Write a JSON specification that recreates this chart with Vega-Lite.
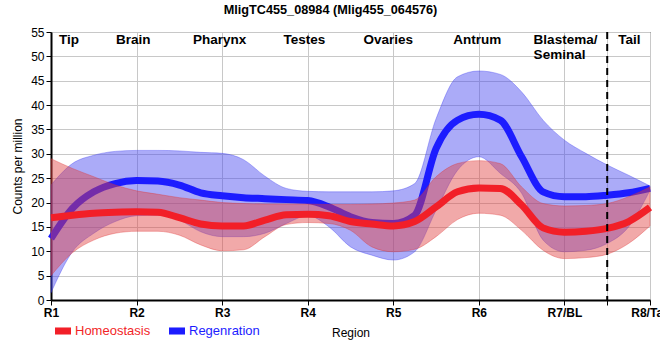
{
  "$schema": "https://vega.github.io/schema/vega-lite/v6.json",
  "width": 599,
  "height": 268,
  "autosize": "none",
  "padding": {"left": 51, "top": 32, "right": 10, "bottom": 60},
  "background": "white",
  "config": {
    "font": "Liberation Sans",
    "view": {"stroke": "black", "strokeWidth": 1},
    "axisY": {
      "tickCount": 12,
      "labelOverlap": false,
      "labelFontSize": 12,
      "labelFontWeight": "normal",
      "labelColor": "black",
      "labelPadding": 2,
      "tickColor": "black",
      "tickSize": 5,
      "domainColor": "black",
      "domainWidth": 2,
      "grid": true,
      "gridColor": "#c8c8c8",
      "titleFontSize": 12,
      "titleFontWeight": "normal",
      "titleColor": "black",
      "titlePadding": 6
    },
    "axisX": {
      "labelOverlap": false,
      "labelFlush": false,
      "labelFontSize": 12,
      "labelFontWeight": "bold",
      "labelColor": "black",
      "labelPadding": 2,
      "tickColor": "black",
      "tickSize": 5,
      "domainColor": "black",
      "domainWidth": 2,
      "grid": true,
      "gridColor": "#c8c8c8",
      "titleFontSize": 12,
      "titleFontWeight": "normal",
      "titleColor": "black",
      "titlePadding": 9
    }
  },
  "title": {
    "text": "MligTC455_08984 (Mlig455_064576)",
    "fontSize": 12.7,
    "fontWeight": "bold",
    "color": "black",
    "anchor": "middle",
    "frame": "group",
    "dx": -20,
    "baseline": "alphabetic",
    "offset": -1
  },
  "datasets": {
    "expr": [
      {"x": 1, "group": "Homeostasis", "mean": 16.9, "lo": 5.0, "hi": 29.0},
      {"x": 1.25, "group": "Homeostasis", "mean": 17.4, "lo": 9.7, "hi": 27.0},
      {"x": 1.5, "group": "Homeostasis", "mean": 17.8, "lo": 12.3, "hi": 25.3},
      {"x": 1.75, "group": "Homeostasis", "mean": 18.0, "lo": 13.7, "hi": 23.6},
      {"x": 2, "group": "Homeostasis", "mean": 18.1, "lo": 14.1, "hi": 22.4},
      {"x": 2.25, "group": "Homeostasis", "mean": 18.0, "lo": 14.1, "hi": 21.7},
      {"x": 2.5, "group": "Homeostasis", "mean": 16.9, "lo": 13.3, "hi": 21.0},
      {"x": 2.75, "group": "Homeostasis", "mean": 15.6, "lo": 11.3, "hi": 20.5},
      {"x": 3, "group": "Homeostasis", "mean": 15.2, "lo": 10.1, "hi": 20.0},
      {"x": 3.25, "group": "Homeostasis", "mean": 15.2, "lo": 10.3, "hi": 19.8},
      {"x": 3.5, "group": "Homeostasis", "mean": 16.4, "lo": 13.0, "hi": 19.7},
      {"x": 3.75, "group": "Homeostasis", "mean": 17.5, "lo": 15.5, "hi": 19.7},
      {"x": 4, "group": "Homeostasis", "mean": 17.6, "lo": 15.9, "hi": 19.7},
      {"x": 4.25, "group": "Homeostasis", "mean": 17.3, "lo": 15.7, "hi": 19.6},
      {"x": 4.5, "group": "Homeostasis", "mean": 16.1, "lo": 14.3, "hi": 19.6},
      {"x": 4.75, "group": "Homeostasis", "mean": 15.6, "lo": 10.9, "hi": 19.7},
      {"x": 5, "group": "Homeostasis", "mean": 15.2, "lo": 9.9, "hi": 19.9},
      {"x": 5.25, "group": "Homeostasis", "mean": 16.1, "lo": 10.4, "hi": 20.5},
      {"x": 5.5, "group": "Homeostasis", "mean": 19.1, "lo": 13.0, "hi": 25.3},
      {"x": 5.75, "group": "Homeostasis", "mean": 22.2, "lo": 16.5, "hi": 28.0},
      {"x": 6, "group": "Homeostasis", "mean": 23.0, "lo": 17.8, "hi": 28.6},
      {"x": 6.25, "group": "Homeostasis", "mean": 22.9, "lo": 17.4, "hi": 28.0},
      {"x": 6.5, "group": "Homeostasis", "mean": 19.5, "lo": 14.3, "hi": 23.2},
      {"x": 6.75, "group": "Homeostasis", "mean": 14.8, "lo": 10.2, "hi": 19.8},
      {"x": 7, "group": "Homeostasis", "mean": 13.9, "lo": 8.5, "hi": 19.3},
      {"x": 7.25, "group": "Homeostasis", "mean": 14.1, "lo": 8.7, "hi": 19.4},
      {"x": 7.5, "group": "Homeostasis", "mean": 14.7, "lo": 9.4, "hi": 19.8},
      {"x": 7.75, "group": "Homeostasis", "mean": 16.1, "lo": 11.6, "hi": 21.2},
      {"x": 8, "group": "Homeostasis", "mean": 19.0, "lo": 15.2, "hi": 23.2},
      {"x": 1, "group": "Regenration", "mean": 12.6, "lo": 1.5, "hi": 23.6},
      {"x": 1.25, "group": "Regenration", "mean": 18.8, "lo": 9.9, "hi": 28.0},
      {"x": 1.5, "group": "Regenration", "mean": 22.2, "lo": 13.7, "hi": 29.7},
      {"x": 1.75, "group": "Regenration", "mean": 23.9, "lo": 16.1, "hi": 30.5},
      {"x": 2, "group": "Regenration", "mean": 24.5, "lo": 17.3, "hi": 30.7},
      {"x": 2.25, "group": "Regenration", "mean": 24.4, "lo": 17.4, "hi": 30.7},
      {"x": 2.5, "group": "Regenration", "mean": 23.6, "lo": 16.4, "hi": 30.6},
      {"x": 2.75, "group": "Regenration", "mean": 22.0, "lo": 14.0, "hi": 30.3},
      {"x": 3, "group": "Regenration", "mean": 21.4, "lo": 13.0, "hi": 30.1},
      {"x": 3.25, "group": "Regenration", "mean": 21.0, "lo": 13.0, "hi": 28.8},
      {"x": 3.5, "group": "Regenration", "mean": 20.8, "lo": 13.7, "hi": 25.4},
      {"x": 3.75, "group": "Regenration", "mean": 20.6, "lo": 15.7, "hi": 22.9},
      {"x": 4, "group": "Regenration", "mean": 20.4, "lo": 17.3, "hi": 22.3},
      {"x": 4.25, "group": "Regenration", "mean": 19.1, "lo": 15.0, "hi": 22.2},
      {"x": 4.5, "group": "Regenration", "mean": 17.1, "lo": 10.9, "hi": 22.2},
      {"x": 4.75, "group": "Regenration", "mean": 15.9, "lo": 9.2, "hi": 22.2},
      {"x": 5, "group": "Regenration", "mean": 15.7, "lo": 8.2, "hi": 22.4},
      {"x": 5.25, "group": "Regenration", "mean": 17.4, "lo": 9.9, "hi": 23.9},
      {"x": 5.5, "group": "Regenration", "mean": 31.1, "lo": 18.4, "hi": 37.2},
      {"x": 5.75, "group": "Regenration", "mean": 36.9, "lo": 26.6, "hi": 45.8},
      {"x": 6, "group": "Regenration", "mean": 38.1, "lo": 29.4, "hi": 47.0},
      {"x": 6.25, "group": "Regenration", "mean": 36.9, "lo": 26.0, "hi": 46.3},
      {"x": 6.5, "group": "Regenration", "mean": 29.4, "lo": 21.9, "hi": 42.7},
      {"x": 6.75, "group": "Regenration", "mean": 22.2, "lo": 12.3, "hi": 36.9},
      {"x": 7, "group": "Regenration", "mean": 21.2, "lo": 9.9, "hi": 32.8},
      {"x": 7.25, "group": "Regenration", "mean": 21.2, "lo": 10.2, "hi": 30.1},
      {"x": 7.5, "group": "Regenration", "mean": 21.5, "lo": 11.6, "hi": 27.7},
      {"x": 7.75, "group": "Regenration", "mean": 22.0, "lo": 15.0, "hi": 25.6},
      {"x": 8, "group": "Regenration", "mean": 22.9, "lo": 22.5, "hi": 23.4}
    ],
    "regions": [
      {"label": "Tip", "x": 1.21},
      {"label": "Brain", "x": 1.96},
      {"label": "Pharynx", "x": 2.97},
      {"label": "Testes", "x": 3.96},
      {"label": "Ovaries", "x": 4.94},
      {"label": "Antrum", "x": 5.98},
      {"label": "Tail", "x": 7.76}
    ],
    "regions2": [
      {"label": "Blastema/\nSeminal", "x": 6.64}
    ],
    "divider": [{"x": 7.5}]
  },
  "layer": [
    {
      "data": {"name": "expr"},
      "transform": [{"filter": "datum.group == 'Regenration'"}],
      "mark": {"type": "area", "interpolate": "monotone", "fill": "#4545f0", "fillOpacity": 0.45, "stroke": "#3a3af0", "strokeOpacity": 0.35, "strokeWidth": 1},
      "encoding": {
        "x": {
          "field": "x", "type": "quantitative", "title": "Region",
          "scale": {"domain": [1, 8], "nice": false, "zero": false},
          "axis": {
            "values": [1, 2, 3, 4, 5, 6, 7, 7.5, 8],
            "labelExpr": "datum.value == 7.5 ? '' : ['R1','R2','R3','R4','R5','R6','R7/BL','R8/Tail'][datum.value - 1]"
          }
        },
        "y": {
          "field": "lo", "type": "quantitative", "title": "Counts per million",
          "scale": {"domain": [0, 55], "nice": false, "zero": false},
          "axis": {"values": [0, 5, 10, 15, 20, 25, 30, 35, 40, 45, 50, 55]}
        },
        "y2": {"field": "hi"}
      }
    },
    {
      "data": {"name": "expr"},
      "transform": [{"filter": "datum.group == 'Regenration'"}],
      "mark": {"type": "line", "interpolate": "monotone", "strokeWidth": 7},
      "encoding": {
        "x": {"field": "x", "type": "quantitative", "title": "Region"},
        "y": {"field": "mean", "type": "quantitative", "title": "Counts per million", "axis": {"values": [0, 5, 10, 15, 20, 25, 30, 35, 40, 45, 50, 55]}},
        "color": {
          "field": "group", "type": "nominal",
          "scale": {"domain": ["Homeostasis", "Regenration"], "range": ["#f21f28", "#1c1cff"]},
          "legend": {
            "orient": "none",
            "legendX": 4,
            "legendY": 291,
            "direction": "horizontal",
            "title": null,
            "symbolType": "M-1,-0.44H1V0.44H-1Z",
            "symbolSize": 256,
            "symbolStrokeWidth": 0,
            "labelFontSize": 13,
            "labelOffset": 4,
            "columnPadding": 18,
            "padding": 0,
            "encode": {
              "labels": {"update": {"fill": {"scale": "color", "field": "value"}}},
              "symbols": {"update": {"fill": {"scale": "color", "field": "value"}, "opacity": {"value": 1}, "strokeWidth": {"value": 0}}}
            }
          }
        }
      }
    },
    {
      "data": {"name": "expr"},
      "transform": [{"filter": "datum.group == 'Homeostasis'"}],
      "mark": {"type": "area", "interpolate": "monotone", "fill": "#e04040", "fillOpacity": 0.45, "stroke": "#e03030", "strokeOpacity": 0.35, "strokeWidth": 1},
      "encoding": {
        "x": {"field": "x", "type": "quantitative", "title": "Region"},
        "y": {"field": "lo", "type": "quantitative", "title": "Counts per million", "axis": {"values": [0, 5, 10, 15, 20, 25, 30, 35, 40, 45, 50, 55]}},
        "y2": {"field": "hi"}
      }
    },
    {
      "data": {"name": "expr"},
      "transform": [{"filter": "datum.group == 'Homeostasis'"}],
      "mark": {"type": "line", "interpolate": "monotone", "strokeWidth": 7},
      "encoding": {
        "x": {"field": "x", "type": "quantitative", "title": "Region"},
        "y": {"field": "mean", "type": "quantitative", "title": "Counts per million", "axis": {"values": [0, 5, 10, 15, 20, 25, 30, 35, 40, 45, 50, 55]}},
        "color": {"field": "group", "type": "nominal"}
      }
    },
    {
      "data": {"name": "divider"},
      "mark": {"type": "rule", "color": "black", "strokeWidth": 2, "strokeDash": [7, 5]},
      "encoding": {
        "x": {"field": "x", "type": "quantitative", "title": "Region"}
      }
    },
    {
      "data": {"name": "regions"},
      "mark": {"type": "text", "fontSize": 13.5, "fontWeight": "bold", "color": "black", "align": "center", "baseline": "top", "dy": 1},
      "encoding": {
        "x": {"field": "x", "type": "quantitative", "title": "Region"},
        "y": {"datum": 55, "type": "quantitative", "title": "Counts per million", "axis": {"values": [0, 5, 10, 15, 20, 25, 30, 35, 40, 45, 50, 55]}},
        "text": {"field": "label"}
      }
    },
    {
      "data": {"name": "regions2"},
      "mark": {"type": "text", "fontSize": 13.5, "fontWeight": "bold", "color": "black", "align": "left", "baseline": "top", "dy": 1, "lineBreak": "\n", "lineHeight": 15},
      "encoding": {
        "x": {"field": "x", "type": "quantitative", "title": "Region"},
        "y": {"datum": 55, "type": "quantitative", "title": "Counts per million", "axis": {"values": [0, 5, 10, 15, 20, 25, 30, 35, 40, 45, 50, 55]}},
        "text": {"field": "label"}
      }
    }
  ]
}
